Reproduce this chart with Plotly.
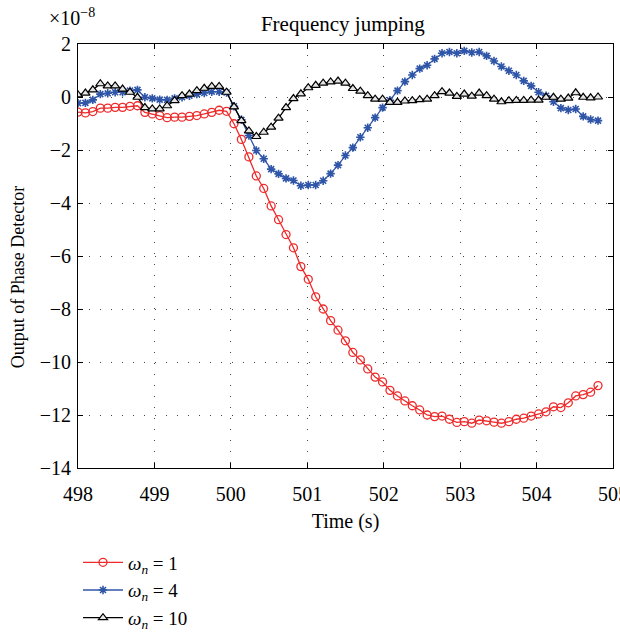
import plotly.graph_objects as go

time_s = [498.000, 498.097, 498.194, 498.292, 498.389, 498.486, 498.583, 498.680, 498.778, 498.875,
          498.972, 499.069, 499.166, 499.264, 499.361, 499.458, 499.555, 499.652, 499.750, 499.847,
          499.944, 500.041, 500.138, 500.236, 500.333, 500.430, 500.527, 500.624, 500.722, 500.819,
          500.916, 501.013, 501.110, 501.208, 501.305, 501.402, 501.499, 501.596, 501.694, 501.791,
          501.888, 501.985, 502.082, 502.180, 502.277, 502.374, 502.471, 502.568, 502.666, 502.763,
          502.860, 502.957, 503.054, 503.152, 503.249, 503.346, 503.443, 503.540, 503.638, 503.735,
          503.832, 503.929, 504.026, 504.124, 504.221, 504.318, 504.415, 504.512, 504.610, 504.707,
          504.804]

# Output of phase detector, in units of 1e-8
wn1 = [-0.57, -0.60, -0.55, -0.42, -0.42, -0.39, -0.39, -0.35, -0.33, -0.58,
       -0.64, -0.70, -0.78, -0.76, -0.76, -0.73, -0.70, -0.64, -0.58, -0.50,
       -0.54, -1.01, -1.60, -2.26, -2.98, -3.45, -4.11, -4.63, -5.19, -5.69,
       -6.40, -6.88, -7.54, -8.00, -8.44, -8.80, -9.20, -9.64, -9.92, -10.26,
       -10.57, -10.75, -11.07, -11.28, -11.47, -11.65, -11.81, -12.00, -12.06, -12.04,
       -12.16, -12.28, -12.25, -12.31, -12.19, -12.22, -12.27, -12.31, -12.25, -12.16,
       -12.12, -12.04, -11.96, -11.88, -11.69, -11.72, -11.54, -11.28, -11.23, -11.14,
       -10.89]

wn4 = [-0.23, -0.22, -0.11, 0.11, 0.14, 0.18, 0.18, 0.24, 0.27, -0.01,
       -0.05, -0.10, -0.11, -0.05, -0.01, 0.05, 0.11, 0.15, 0.20, 0.20,
       0.17, -0.35, -0.86, -1.45, -2.02, -2.33, -2.72, -2.90, -3.07, -3.15,
       -3.35, -3.32, -3.32, -3.16, -2.89, -2.57, -2.21, -1.91, -1.52, -1.16,
       -0.78, -0.40, -0.12, 0.24, 0.58, 0.83, 1.07, 1.20, 1.44, 1.65,
       1.70, 1.65, 1.74, 1.68, 1.70, 1.55, 1.36, 1.15, 0.99, 0.83,
       0.61, 0.42, 0.18, 0.05, -0.18, -0.42, -0.49, -0.45, -0.73, -0.85,
       -0.89]

wn10 = [0.08, 0.15, 0.27, 0.50, 0.42, 0.42, 0.30, 0.18, -0.01, -0.40,
        -0.45, -0.45, -0.33, -0.14, 0.05, 0.11, 0.24, 0.33, 0.40, 0.40,
        0.18, -0.37, -0.89, -1.28, -1.49, -1.33, -1.14, -0.80, -0.40, -0.06,
        0.12, 0.35, 0.44, 0.52, 0.57, 0.60, 0.52, 0.32, 0.22, 0.05,
        -0.08, -0.08, -0.20, -0.20, -0.15, -0.14, -0.10, -0.08, 0.05, 0.20,
        0.15, 0.02, 0.11, 0.03, 0.15, 0.05, -0.08, -0.18, -0.14, -0.13,
        -0.13, -0.12, -0.12, -0.01, -0.01, -0.08, -0.04, 0.16, -0.01, -0.03,
        0.00]

series_names = ["<i>ω<sub>n</sub></i> = 1", "<i>ω<sub>n</sub></i> = 4", "<i>ω<sub>n</sub></i> = 10"]
x_ticks = [498, 499, 500, 501, 502, 503, 504, 505]
y_ticks = [-14, -12, -10, -8, -6, -4, -2, 0, 2]

FONT = "Liberation Serif"

fig = go.Figure()
fig.add_trace(go.Scatter(
    x=time_s, y=wn1, name=series_names[0], mode="lines+markers",
    line=dict(color="#ee2a2a", width=1.3),
    marker=dict(symbol="circle-open", size=8, color="#ee2a2a", line=dict(width=1.3))))
fig.add_trace(go.Scatter(
    x=time_s, y=wn4, name=series_names[1], mode="lines+markers",
    line=dict(color="#2f55a8", width=1.3),
    marker=dict(symbol="asterisk-open", size=7, color="#2f55a8", line=dict(width=1.6, color="#2f55a8"))))
fig.add_trace(go.Scatter(
    x=time_s, y=wn10, name=series_names[2], mode="lines+markers",
    line=dict(color="#000000", width=1.3),
    marker=dict(symbol="triangle-up", size=8, color="#e6e6e6", line=dict(width=1.2, color="#000000"))))

axis_common = dict(
    showline=True, linecolor="black", linewidth=1, mirror="ticks",
    ticks="inside", ticklen=5, tickcolor="black", tickwidth=1,
    showgrid=True, gridcolor="#444444", gridwidth=1, griddash="1px,10px",
    zeroline=False, ticklabeloverflow="allow", automargin=False,
    tickfont=dict(family=FONT, size=20, color="black"),
)

fig.update_xaxes(range=[498, 505], tickvals=x_ticks, ticklabelstandoff=8,
                 title=dict(text="Time (s)", font=dict(family=FONT, size=20, color="black"), standoff=9),
                 **axis_common)
fig.update_yaxes(range=[-14, 2], tickvals=y_ticks, ticklabelstandoff=2,
                 **axis_common)

fig.update_layout(
    width=620, height=635,
    margin=dict(l=78, r=7, t=44, b=167, autoexpand=False),
    paper_bgcolor="white", plot_bgcolor="white",
    font=dict(family=FONT, size=20, color="black"),
    title=dict(text="Frequency jumping", x=0.553, xanchor="center", y=0.962, yanchor="middle",
               font=dict(family=FONT, size=21, color="black")),
    showlegend=True,
    legend=dict(x=0.0, xanchor="left", y=-0.178, yanchor="top",
                font=dict(family=FONT, size=19, color="black"),
                bgcolor="rgba(0,0,0,0)", itemwidth=40, tracegroupgap=0),
    annotations=[
        dict(text="×10<sup>−8</sup>", xref="paper", yref="paper", x=-0.058, y=1.03,
             xanchor="left", yanchor="bottom", showarrow=False,
             font=dict(family=FONT, size=20, color="black")),
        dict(text="Output of Phase Detector", xref="paper", yref="paper", x=-0.112, y=0.45,
             xanchor="center", yanchor="middle", textangle=-90, showarrow=False,
             font=dict(family=FONT, size=18, color="black")),
    ],
)

fig.write_html("out.html")
